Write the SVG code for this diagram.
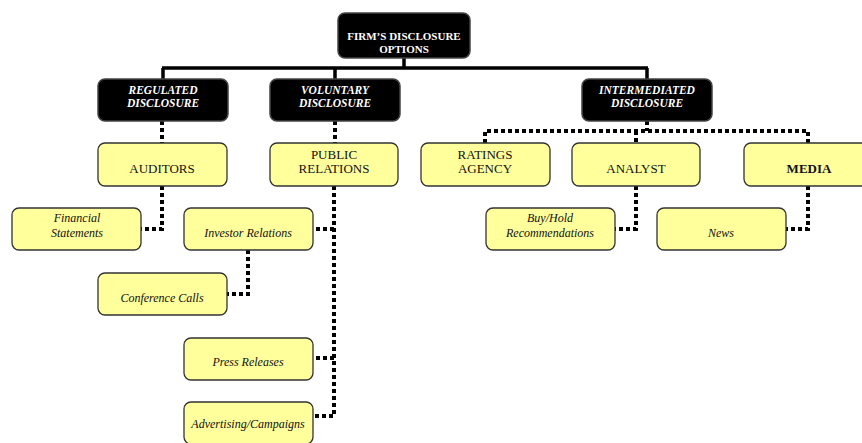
<svg xmlns="http://www.w3.org/2000/svg" width="862" height="443" viewBox="0 0 862 443">
<style>
.blk{fill:#000;stroke:#444;stroke-width:1.5}
.yel{fill:#ffff9c;stroke:#333;stroke-width:1.3}
.wt{font-family:"Liberation Serif",serif;font-weight:bold;font-size:11px;fill:#fff;text-anchor:middle}
.wti{font-family:"Liberation Serif",serif;font-weight:bold;font-style:italic;font-size:11.5px;fill:#fff;text-anchor:middle}
.lt{font-family:"Liberation Serif",serif;font-size:13px;fill:#111;text-anchor:middle}
.it{font-family:"Liberation Serif",serif;font-style:italic;font-size:12px;fill:#111;text-anchor:middle}
.solid{fill:none;stroke:#000;stroke-width:3.5}
.dot{fill:none;stroke:#000;stroke-width:4;stroke-dasharray:4 3}
</style>
<rect width="862" height="443" fill="#fff"/>
<g id="connectors">
<path class="solid" d="M404 58V68M162 68H648M163 68V79M335 68V79M647 68V79"/>
<path class="dot" d="M162 121V143"/>
<path class="dot" d="M335 121V143"/>
<path class="dot" d="M647 121V131"/>
<path class="dot" d="M485 143V131H808V143"/>
<path class="dot" d="M636 131V143"/>
<path class="dot" d="M162 186V229H141"/>
<path class="dot" d="M334 186V416H313"/>
<path class="dot" d="M334 229H313"/>
<path class="dot" d="M334 358H313"/>
<path class="dot" d="M248 250V294H227"/>
<path class="dot" d="M636 186V229H615"/>
<path class="dot" d="M808 186V229H786"/>
</g>
<g id="root"><rect class="blk" x="338" y="13" width="132" height="45" rx="7"/><text class="wt" x="404" y="40">FIRM’S DISCLOSURE</text><text class="wt" x="404" y="53">OPTIONS</text></g>
<g id="regulated"><rect class="blk" x="98" y="79" width="130" height="42" rx="7"/><text class="wti" x="163" y="94">REGULATED</text><text class="wti" x="163" y="107">DISCLOSURE</text></g>
<g id="voluntary"><rect class="blk" x="270" y="79" width="130" height="42" rx="7"/><text class="wti" x="335" y="94">VOLUNTARY</text><text class="wti" x="335" y="107">DISCLOSURE</text></g>
<g id="intermediated"><rect class="blk" x="582" y="79" width="130" height="42" rx="7"/><text class="wti" x="647" y="94">INTERMEDIATED</text><text class="wti" x="647" y="107">DISCLOSURE</text></g>
<g id="auditors"><rect class="yel" x="98" y="143" width="129" height="43" rx="7"/><text class="lt" x="162" y="173">AUDITORS</text></g>
<g id="public-relations"><rect class="yel" x="270" y="143" width="128" height="43" rx="7"/><text class="lt" x="334" y="159">PUBLIC</text><text class="lt" x="334" y="173">RELATIONS</text></g>
<g id="ratings-agency"><rect class="yel" x="421" y="143" width="129" height="43" rx="7"/><text class="lt" x="485" y="159">RATINGS</text><text class="lt" x="485" y="173">AGENCY</text></g>
<g id="analyst"><rect class="yel" x="572" y="143" width="128" height="43" rx="7"/><text class="lt" x="636" y="173">ANALYST</text></g>
<g id="media"><rect class="yel" x="744" y="143" width="128" height="43" rx="7"/><text class="lt" x="809" y="173" font-weight="bold">MEDIA</text></g>
<g id="financial-statements"><rect class="yel" x="12" y="208" width="129" height="42" rx="7"/><text class="it" x="77" y="222">Financial</text><text class="it" x="77" y="237">Statements</text></g>
<g id="investor-relations"><rect class="yel" x="184" y="208" width="129" height="42" rx="7"/><text class="it" x="248" y="237">Investor Relations</text></g>
<g id="conference-calls"><rect class="yel" x="98" y="273" width="129" height="42" rx="7"/><text class="it" x="162" y="302">Conference Calls</text></g>
<g id="press-releases"><rect class="yel" x="184" y="338" width="129" height="42" rx="7"/><text class="it" x="248" y="366">Press Releases</text></g>
<g id="advertising"><rect class="yel" x="184" y="402" width="129" height="42" rx="7"/><text class="it" x="248" y="428">Advertising/Campaigns</text></g>
<g id="buy-hold"><rect class="yel" x="486" y="208" width="129" height="42" rx="7"/><text class="it" x="550" y="222">Buy/Hold</text><text class="it" x="550" y="237">Recommendations</text></g>
<g id="news"><rect class="yel" x="657" y="208" width="129" height="42" rx="7"/><text class="it" x="721" y="237">News</text></g>
</svg>
